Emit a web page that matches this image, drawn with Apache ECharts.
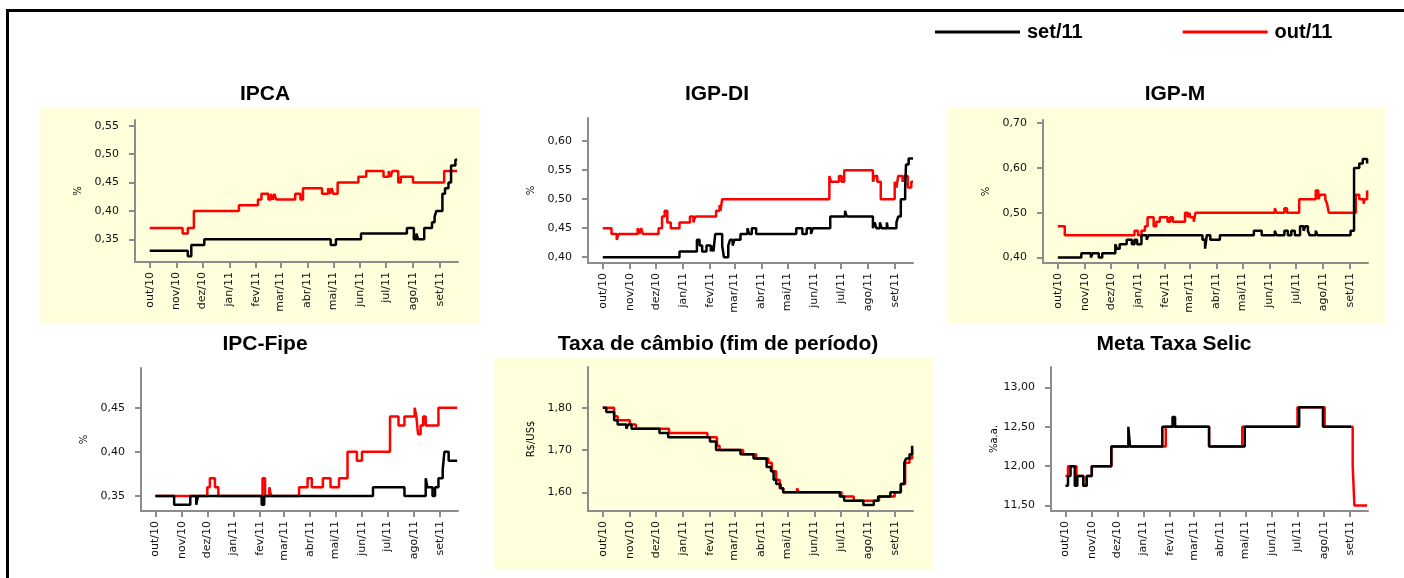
<!DOCTYPE html>
<html>
<head>
<meta charset="utf-8">
<script src="https://cdn.jsdelivr.net/npm/echarts@6/dist/echarts.min.js"></script>
<style>
  html, body { margin: 0; padding: 0; background: #fff; }
  #main { width: 1404px; height: 578px; }
</style>
</head>
<body>
<div id="main"></div>
<script>
// eixo x: inicio de cada mes
var monthLabels = ['out/10', 'nov/10', 'dez/10', 'jan/11', 'fev/11', 'mar/11', 'abr/11', 'mai/11', 'jun/11', 'jul/11', 'ago/11', 'set/11'];
var monthStarts = ['2010-10-01', '2010-11-01', '2010-12-01', '2011-01-01', '2011-02-01', '2011-03-01', '2011-04-01', '2011-05-01', '2011-06-01', '2011-07-01', '2011-08-01', '2011-09-01'];

// IPCA
var ipcaTicks = [0.35, 0.40, 0.45, 0.50, 0.55];
var ipcaSet = [['2010-10-01',0.33],['2010-11-14',0.32],['2010-11-18',0.34],['2010-12-03',0.35],['2011-04-28',0.34],['2011-05-04',0.35],['2011-06-02',0.36],['2011-07-25',0.37],['2011-08-02',0.35],['2011-08-05',0.36],['2011-08-07',0.35],['2011-08-14',0.37],['2011-08-23',0.38],['2011-08-26',0.39],['2011-08-28',0.40],['2011-09-04',0.43],['2011-09-07',0.44],['2011-09-11',0.45],['2011-09-14',0.48],['2011-09-19',0.49],['2011-09-21',0.49]];
var ipcaOut = [['2010-10-01',0.37],['2010-11-08',0.36],['2010-11-14',0.37],['2010-11-21',0.40],['2011-01-12',0.41],['2011-02-03',0.42],['2011-02-07',0.43],['2011-02-15',0.42],['2011-02-18',0.43],['2011-02-20',0.42],['2011-02-22',0.43],['2011-02-24',0.42],['2011-03-18',0.43],['2011-03-24',0.42],['2011-03-27',0.44],['2011-04-18',0.43],['2011-04-25',0.44],['2011-04-27',0.43],['2011-04-29',0.44],['2011-05-01',0.43],['2011-05-06',0.45],['2011-05-30',0.46],['2011-06-08',0.47],['2011-06-28',0.46],['2011-07-04',0.47],['2011-07-06',0.46],['2011-07-08',0.47],['2011-07-15',0.45],['2011-07-18',0.46],['2011-08-01',0.45],['2011-09-06',0.47],['2011-09-21',0.47]];

// IGP-DI
var igpdiTicks = [0.40, 0.45, 0.50, 0.55, 0.60];
var igpdiSet = [['2010-10-01',0.40],['2010-12-28',0.41],['2011-01-17',0.43],['2011-01-20',0.42],['2011-01-23',0.41],['2011-01-28',0.42],['2011-02-02',0.41],['2011-02-03',0.42],['2011-02-05',0.41],['2011-02-07',0.44],['2011-02-15',0.42],['2011-02-17',0.40],['2011-02-22',0.42],['2011-02-24',0.43],['2011-02-27',0.42],['2011-03-01',0.43],['2011-03-08',0.44],['2011-03-16',0.45],['2011-03-18',0.44],['2011-03-21',0.45],['2011-03-26',0.44],['2011-05-11',0.45],['2011-05-18',0.44],['2011-05-23',0.45],['2011-05-28',0.44],['2011-05-30',0.45],['2011-06-19',0.47],['2011-07-06',0.48],['2011-07-08',0.47],['2011-08-07',0.45],['2011-08-09',0.46],['2011-08-11',0.45],['2011-08-15',0.46],['2011-08-17',0.45],['2011-08-23',0.46],['2011-08-24',0.45],['2011-09-03',0.46],['2011-09-05',0.47],['2011-09-08',0.50],['2011-09-13',0.52],['2011-09-14',0.56],['2011-09-17',0.57],['2011-09-22',0.57]];
var igpdiOut = [['2010-10-01',0.45],['2010-10-11',0.44],['2010-10-17',0.43],['2010-10-19',0.44],['2010-11-10',0.45],['2010-11-12',0.44],['2010-11-14',0.45],['2010-11-16',0.44],['2010-12-04',0.45],['2010-12-08',0.47],['2010-12-11',0.48],['2010-12-14',0.46],['2010-12-18',0.45],['2010-12-28',0.46],['2011-01-09',0.47],['2011-01-13',0.46],['2011-01-15',0.47],['2011-02-08',0.48],['2011-02-12',0.49],['2011-02-13',0.48],['2011-02-15',0.50],['2011-06-18',0.54],['2011-06-20',0.53],['2011-06-29',0.54],['2011-07-02',0.53],['2011-07-05',0.55],['2011-08-07',0.53],['2011-08-09',0.54],['2011-08-12',0.53],['2011-08-16',0.50],['2011-09-01',0.53],['2011-09-03',0.52],['2011-09-05',0.54],['2011-09-10',0.53],['2011-09-12',0.54],['2011-09-16',0.52],['2011-09-20',0.53],['2011-09-22',0.53]];

// IGP-M
var igpmTicks = [0.40, 0.50, 0.60, 0.70];
var igpmSet = [['2010-10-01',0.40],['2010-10-28',0.41],['2010-11-08',0.40],['2010-11-10',0.41],['2010-11-17',0.40],['2010-11-21',0.41],['2010-12-06',0.43],['2010-12-08',0.42],['2010-12-11',0.43],['2010-12-19',0.44],['2010-12-25',0.43],['2010-12-28',0.44],['2010-12-31',0.43],['2011-01-05',0.45],['2011-01-11',0.44],['2011-01-13',0.45],['2011-03-16',0.44],['2011-03-19',0.42],['2011-03-21',0.45],['2011-03-25',0.44],['2011-04-05',0.45],['2011-05-14',0.46],['2011-05-23',0.45],['2011-06-07',0.46],['2011-06-09',0.45],['2011-06-18',0.46],['2011-06-22',0.45],['2011-06-26',0.46],['2011-06-30',0.45],['2011-07-06',0.47],['2011-07-10',0.46],['2011-07-12',0.47],['2011-07-15',0.46],['2011-07-17',0.45],['2011-07-24',0.46],['2011-07-26',0.45],['2011-09-02',0.46],['2011-09-06',0.60],['2011-09-12',0.61],['2011-09-16',0.62],['2011-09-21',0.61]];
var igpmOut = [['2010-10-01',0.47],['2010-10-09',0.45],['2010-12-28',0.46],['2011-01-01',0.45],['2011-01-05',0.46],['2011-01-09',0.47],['2011-01-12',0.49],['2011-01-19',0.47],['2011-01-22',0.48],['2011-01-26',0.49],['2011-02-04',0.48],['2011-02-07',0.49],['2011-02-10',0.48],['2011-02-24',0.50],['2011-02-27',0.49],['2011-03-01',0.50],['2011-03-02',0.49],['2011-03-06',0.48],['2011-03-08',0.50],['2011-06-07',0.51],['2011-06-09',0.50],['2011-06-18',0.51],['2011-06-21',0.50],['2011-07-05',0.53],['2011-07-24',0.55],['2011-07-27',0.53],['2011-07-29',0.54],['2011-08-04',0.53],['2011-08-06',0.52],['2011-08-08',0.50],['2011-09-08',0.54],['2011-09-12',0.53],['2011-09-17',0.52],['2011-09-18',0.53],['2011-09-21',0.55]];

// IPC-Fipe
var fipeTicks = [0.35, 0.40, 0.45];
var fipeSet = [['2010-10-01',0.35],['2010-10-23',0.34],['2010-11-11',0.35],['2010-11-18',0.34],['2010-11-20',0.35],['2011-02-03',0.34],['2011-02-06',0.35],['2011-06-14',0.36],['2011-07-21',0.35],['2011-08-15',0.37],['2011-08-17',0.36],['2011-08-23',0.35],['2011-08-26',0.36],['2011-08-30',0.37],['2011-09-04',0.38],['2011-09-06',0.40],['2011-09-11',0.39],['2011-09-21',0.39]];
var fipeOut = [['2010-10-01',0.35],['2010-12-01',0.36],['2010-12-04',0.37],['2010-12-10',0.36],['2010-12-14',0.35],['2011-02-04',0.37],['2011-02-07',0.35],['2011-02-12',0.36],['2011-02-14',0.35],['2011-03-19',0.36],['2011-03-29',0.37],['2011-04-03',0.36],['2011-04-16',0.37],['2011-04-25',0.36],['2011-05-05',0.37],['2011-05-15',0.40],['2011-05-26',0.39],['2011-06-01',0.40],['2011-07-04',0.44],['2011-07-14',0.43],['2011-07-21',0.44],['2011-08-02',0.45],['2011-08-04',0.44],['2011-08-06',0.42],['2011-08-09',0.43],['2011-08-12',0.44],['2011-08-15',0.43],['2011-08-30',0.45],['2011-09-21',0.45]];

// Taxa de cambio
var cambioTicks = [1.60, 1.70, 1.80];
var cambioSet = [['2010-10-01',1.80],['2010-10-05',1.79],['2010-10-14',1.77],['2010-10-18',1.76],['2010-10-28',1.75],['2010-10-30',1.76],['2010-11-03',1.75],['2010-12-05',1.74],['2010-12-15',1.73],['2011-02-01',1.72],['2011-02-08',1.70],['2011-03-08',1.69],['2011-03-23',1.68],['2011-04-07',1.66],['2011-04-12',1.65],['2011-04-15',1.63],['2011-04-18',1.62],['2011-04-23',1.61],['2011-04-26',1.60],['2011-06-30',1.59],['2011-07-05',1.58],['2011-07-27',1.57],['2011-08-08',1.58],['2011-08-13',1.59],['2011-08-27',1.60],['2011-09-08',1.62],['2011-09-12',1.67],['2011-09-14',1.68],['2011-09-18',1.69],['2011-09-21',1.71]];
var cambioOut = [['2010-10-01',1.80],['2010-10-10',1.80],['2010-10-14',1.78],['2010-10-18',1.77],['2010-11-01',1.76],['2010-11-08',1.75],['2010-12-08',1.75],['2010-12-16',1.74],['2011-01-29',1.73],['2011-02-09',1.71],['2011-02-12',1.70],['2011-03-11',1.69],['2011-03-26',1.68],['2011-04-09',1.67],['2011-04-13',1.65],['2011-04-18',1.63],['2011-04-22',1.61],['2011-04-26',1.60],['2011-05-12',1.61],['2011-05-14',1.60],['2011-07-02',1.59],['2011-07-16',1.58],['2011-08-14',1.59],['2011-09-01',1.60],['2011-09-08',1.62],['2011-09-13',1.67],['2011-09-18',1.68],['2011-09-21',1.70]];

// Meta Taxa Selic
var selicTicks = [11.50, 12.00, 12.50, 13.00];
var selicSet = [['2010-10-01',11.75],['2010-10-04',11.875],['2010-10-07',12.00],['2010-10-12',11.75],['2010-10-15',11.875],['2010-10-22',11.75],['2010-10-26',11.875],['2010-11-01',12.00],['2010-11-24',12.25],['2010-12-14',12.50],['2010-12-16',12.25],['2011-01-23',12.50],['2011-02-04',12.625],['2011-02-07',12.50],['2011-03-19',12.25],['2011-04-30',12.50],['2011-07-03',12.75],['2011-07-31',12.50],['2011-09-02',12.50]];
var selicOut = [['2010-10-01',11.875],['2010-10-04',12.00],['2010-10-14',11.875],['2010-10-22',11.75],['2010-10-26',11.875],['2010-11-01',12.00],['2010-11-24',12.25],['2011-01-27',12.50],['2011-03-19',12.25],['2011-04-27',12.50],['2011-07-01',12.75],['2011-08-02',12.50],['2011-09-01',12.50],['2011-09-04',12.00],['2011-09-06',11.50],['2011-09-21',11.50]];

function toTs(s) {
  var p = s.split('-');
  return Date.UTC(+p[0], +p[1] - 1, +p[2]);
}
var monthTs = monthStarts.map(toTs);

var panels = [
  { title: 'IPCA', unit: '%', set: ipcaSet, out: ipcaOut, ticks: ipcaTicks, min: 0.31, max: 0.56, grid: [135, 120, 323, 142], tx: 260, ty: 79, bg: [40, 108, 440, 215] },
  { title: 'IGP-DI', unit: '%', set: igpdiSet, out: igpdiOut, ticks: igpdiTicks, min: 0.39, max: 0.64, grid: [588, 118, 325, 145], tx: 712, ty: 79 },
  { title: 'IGP-M', unit: '%', set: igpmSet, out: igpmOut, ticks: igpmTicks, min: 0.388, max: 0.707, grid: [1043, 120, 325, 143], tx: 1170, ty: 79, bg: [948, 108, 437, 215] },
  { title: 'IPC-Fipe', unit: '%', set: fipeSet, out: fipeOut, ticks: fipeTicks, min: 0.333, max: 0.495, grid: [141, 368, 317, 143], tx: 260, ty: 329 },
  { title: 'Taxa de câmbio (fim de período)', unit: 'R$/US$', set: cambioSet, out: cambioOut, ticks: cambioTicks, min: 1.556, max: 1.896, grid: [588, 367, 325, 144], tx: 713, ty: 329, bg: [494, 358, 439, 212] },
  { title: 'Meta Taxa Selic', unit: '%a.a.', set: selicSet, out: selicOut, ticks: selicTicks, min: 11.43, max: 13.26, grid: [1051, 367, 317, 144], tx: 1169, ty: 329 }
];

var axisGray = '#8c8c8c';
var tickFont = { fontFamily: 'DejaVu Sans', fontSize: 11, color: '#111' };

var titles = [], grids = [], xAxes = [], yAxes = [], series = [];
var graphics = [
  { type: 'rect', shape: { x: 6, y: 9, width: 3, height: 569 }, style: { fill: '#000' } },
  { type: 'rect', shape: { x: 6, y: 9, width: 1398, height: 3 }, style: { fill: '#000' } }
];

panels.forEach(function (p, i) {
  if (p.bg) {
    graphics.push({ type: 'rect', z: -10, shape: { x: p.bg[0], y: p.bg[1], width: p.bg[2], height: p.bg[3] }, style: { fill: '#ffffdc' } });
  }
  titles.push({
    text: p.title, left: p.tx, top: p.ty, textAlign: 'center',
    textStyle: { fontFamily: 'Liberation Sans', fontSize: 21, fontWeight: 'bold', color: '#000' }
  });
  grids.push({ left: p.grid[0], top: p.grid[1], width: p.grid[2], height: p.grid[3] });
  xAxes.push({
    type: 'value', gridIndex: i,
    min: toTs('2010-09-14'), max: toTs('2011-09-22'),
    axisLine: { onZero: false, lineStyle: { color: axisGray, width: 2 } },
    axisTick: { customValues: monthTs, length: 6, lineStyle: { color: axisGray, width: 2 } },
    axisLabel: {
      customValues: monthTs, rotate: 90, margin: 10, fontFamily: tickFont.fontFamily, fontSize: tickFont.fontSize, color: tickFont.color,
      formatter: function (v) {
        for (var k = 0; k < monthTs.length; k++) {
          if (Math.abs(monthTs[k] - v) < 86400000) return monthLabels[k];
        }
        return '';
      }
    },
    splitLine: { show: false }
  });
  yAxes.push({
    type: 'value', gridIndex: i, min: p.min, max: p.max,
    name: p.unit, nameLocation: 'middle', nameRotate: 90, nameGap: 52,
    nameTextStyle: { fontFamily: 'DejaVu Sans', fontSize: 10, color: '#000' },
    axisLine: { show: true, lineStyle: { color: axisGray, width: 2 } },
    axisTick: { show: true, customValues: p.ticks, length: 6, lineStyle: { color: axisGray, width: 2 } },
    axisLabel: {
      customValues: p.ticks, margin: 16, fontFamily: tickFont.fontFamily, fontSize: tickFont.fontSize, color: tickFont.color,
      formatter: function (v) { return v.toFixed(2).replace('.', ','); }
    },
    splitLine: { show: false }
  });
  series.push({
    name: 'out/11', type: 'line', step: 'end', xAxisIndex: i, yAxisIndex: i,
    showSymbol: false, lineStyle: { color: '#ff0000', width: 2.5 }, itemStyle: { color: '#ff0000' },
    data: p.out.map(function (d) { return [toTs(d[0]), d[1]]; })
  });
  series.push({
    name: 'set/11', type: 'line', step: 'end', xAxisIndex: i, yAxisIndex: i,
    showSymbol: false, lineStyle: { color: '#000000', width: 2.5 }, itemStyle: { color: '#000000' },
    data: p.set.map(function (d) { return [toTs(d[0]), d[1]]; })
  });
});

var myChart = echarts.init(document.getElementById('main'));
myChart.setOption({
  animation: false,
  backgroundColor: '#fff',
  title: titles,
  legend: {
    data: ['set/11', 'out/11'],
    left: 930, top: 17, itemGap: 100, itemWidth: 85, itemHeight: 3, icon: 'rect',
    textStyle: { fontFamily: 'Liberation Sans', fontSize: 20, fontWeight: 'bold', color: '#000', padding: [0, 0, 0, 2] }
  },
  grid: grids,
  xAxis: xAxes,
  yAxis: yAxes,
  series: series,
  graphic: graphics
});
</script>
</body>
</html>
